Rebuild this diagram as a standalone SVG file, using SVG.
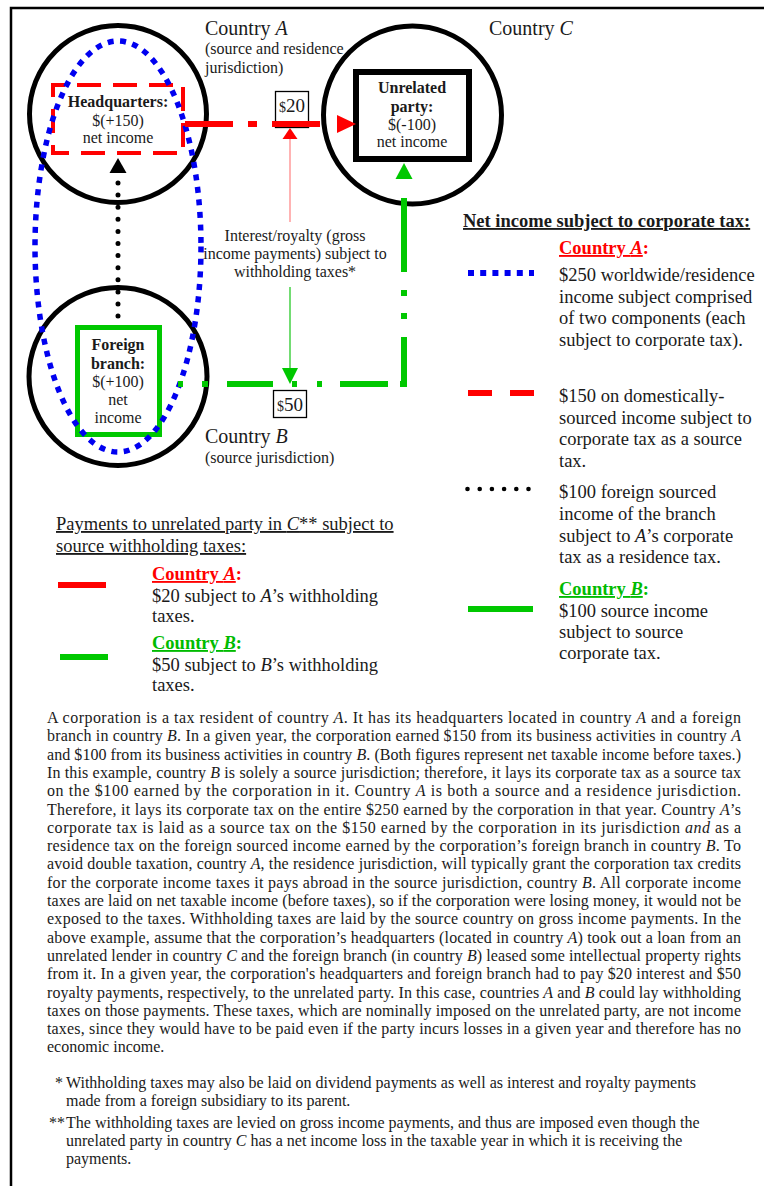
<svg xmlns="http://www.w3.org/2000/svg" width="764" height="1186" viewBox="0 0 764 1186">
<defs>
<style>
text{font-family:"Liberation Serif","Times New Roman",serif;fill:#1a1a1a}
.c20{font-size:20px}
.s16{font-size:16px}
.b{font-weight:bold}
.lg{font-size:18.5px}
.p{font-size:16px}
.fn{font-size:16px}
.mid{text-anchor:middle}
.it{font-style:italic}
.circ{fill:none;stroke:#000;stroke-width:5}
.red{stroke:#ff0000;stroke-width:6;fill:none}
.grn{stroke:#00c800;stroke-width:6;fill:none}
.rt{fill:#ff0000}
.gt{fill:#00bb00}
</style>
</defs>
<rect x="0" y="0" width="764" height="1186" fill="#fff"/>
<rect x="11" y="8" width="800" height="1200" fill="#fff" stroke="#000" stroke-width="2.5"/>

<g id="countryA">
<circle cx="118" cy="114" r="88.5" class="circ"/>
<text class="c20" x="205" y="35">Country <tspan class="it">A</tspan></text>
<text class="s16" x="205" y="54">(source and residence</text>
<text class="s16" x="205" y="73">jurisdiction)</text>
</g>
<g id="countryB">
<circle cx="118" cy="376.5" r="89" class="circ"/>
<text class="c20" x="205" y="443">Country <tspan class="it">B</tspan></text>
<text class="s16" x="205" y="463">(source jurisdiction)</text>
</g>
<g id="countryC">
<circle cx="412.5" cy="115" r="89" class="circ"/>
<text class="c20" x="489" y="35">Country <tspan class="it">C</tspan></text>
</g>

<g id="headquarters">
<rect x="53" y="85" width="130" height="68" fill="none" stroke="#ff0000" stroke-width="4" stroke-dasharray="24 12" stroke-dashoffset="12"/>
<text class="s16 b mid" x="118" y="107">Headquarters:</text>
<text class="s16 mid" x="118" y="126">$(+150)</text>
<text class="s16 mid" x="118" y="143">net income</text>
</g>

<g id="unrelatedParty">
<rect x="356" y="72" width="113" height="87" fill="#fff" stroke="#000" stroke-width="6"/>
<text class="s16 b mid" x="412" y="93">Unrelated</text>
<text class="s16 b mid" x="412" y="112">party:</text>
<text class="s16 mid" x="412" y="130">$(-100)</text>
<text class="s16 mid" x="412" y="147">net income</text>
</g>

<g id="foreignBranch">
<rect x="77.5" y="327.5" width="82" height="107" fill="#fff" stroke="#00c800" stroke-width="5"/>
<text class="s16 b mid" x="118" y="350">Foreign</text>
<text class="s16 b mid" x="118" y="369">branch:</text>
<text class="s16 mid" x="118" y="387">$(+100)</text>
<text class="s16 mid" x="118" y="405">net</text>
<text class="s16 mid" x="118" y="423">income</text>
</g>

<g id="residenceScope">
<ellipse cx="118" cy="246.5" rx="83" ry="205.5" fill="none" stroke="#0000f0" stroke-width="5.5" stroke-dasharray="6 6.5"/>
</g>

<g id="connectors">
<!-- branch to HQ (dotted) -->
<line x1="118" y1="183" x2="118" y2="317" stroke="#000" stroke-width="5" stroke-linecap="round" stroke-dasharray="0 12.1"/>
<polygon points="118,158 109.5,173 126.5,173" fill="#000"/>
<!-- $20 box -->
<rect x="275.5" y="91.5" width="33" height="36" fill="#fff" stroke="#000" stroke-width="1.3"/>
<text x="292" y="112" class="mid"><tspan font-size="14">$</tspan><tspan font-size="19">20</tspan></text>
<!-- HQ to unrelated party (red) -->
<path class="red" d="M185 124H233M248 124H257M272 124H320"/>
<polygon points="337,115 356,124 337,133" fill="#ff0000"/>
<!-- thin red arrow -->
<line x1="290" y1="222" x2="290" y2="136" stroke="#ff8080" stroke-width="1.2"/>
<polygon points="290,128 282.5,139 297.5,139" fill="#ff0000"/>
<!-- label -->
<text class="s16 mid" x="295" y="241">Interest/royalty (gross</text>
<text class="s16 mid" x="295" y="259">income payments) subject to</text>
<text class="s16 mid" x="295" y="277">withholding taxes*</text>
<!-- thin green arrow -->
<line x1="290" y1="287" x2="290" y2="370" stroke="#44d044" stroke-width="1.5"/>
<polygon points="290,384 282,368 298,368" fill="#00c800"/>
<!-- branch to unrelated party (green) -->
<path class="grn" d="M178 384H183M202 384H208M227 384H273M292 384H297M317 384H322M340 384H388M400 384H407M404 387V337M404 319V313M404 296V290M404 272V198"/>
<polygon points="404,163 395.5,179 412.5,179" fill="#00c800"/>
<!-- $50 box -->
<rect x="273.5" y="390.5" width="33" height="27" fill="#fff" stroke="#000" stroke-width="1.3"/>
<text x="290" y="411" class="mid"><tspan font-size="14">$</tspan><tspan font-size="19">50</tspan></text>
</g>

<g id="legendCorporateTax">
<text class="lg b" x="463" y="227" text-decoration="underline">Net income subject to corporate tax:</text>
<text class="lg b rt" x="559" y="254"><tspan text-decoration="underline">Country <tspan class="it">A</tspan></tspan>:</text>
<line x1="468" y1="273" x2="534" y2="273" stroke="#0000f0" stroke-width="6" stroke-dasharray="6 6.2"/>
<text class="lg" x="559" y="281">$250 worldwide/residence</text>
<text class="lg" x="559" y="303">income subject comprised</text>
<text class="lg" x="559" y="324">of two components (each</text>
<text class="lg" x="559" y="346">subject to corporate tax).</text>
<line x1="468" y1="393" x2="534" y2="393" stroke="#ff0000" stroke-width="6" stroke-dasharray="24 18"/>
<text class="lg" x="559" y="402">$150 on domestically-</text>
<text class="lg" x="559" y="424">sourced income subject to</text>
<text class="lg" x="559" y="445">corporate tax as a source</text>
<text class="lg" x="559" y="467">tax.</text>
<g fill="#000">
<circle cx="467.5" cy="489" r="2.3"/><circle cx="479.7" cy="489" r="2.3"/><circle cx="491.9" cy="489" r="2.3"/><circle cx="504.1" cy="489" r="2.3"/><circle cx="516.3" cy="489" r="2.3"/><circle cx="528.5" cy="489" r="2.3"/>
</g>
<text class="lg" x="559" y="498">$100 foreign sourced</text>
<text class="lg" x="559" y="520">income of the branch</text>
<text class="lg" x="559" y="542">subject to <tspan class="it">A</tspan>’s corporate</text>
<text class="lg" x="559" y="563">tax as a residence tax.</text>
<text class="lg b gt" x="559" y="595"><tspan text-decoration="underline">Country <tspan class="it">B</tspan></tspan>:</text>
<line x1="468" y1="609" x2="533" y2="609" stroke="#00c800" stroke-width="6"/>
<text class="lg" x="559" y="617">$100 source income</text>
<text class="lg" x="559" y="638">subject to source</text>
<text class="lg" x="559" y="659">corporate tax.</text>
</g>

<g id="legendWithholding">
<text class="lg" x="56" y="530" text-decoration="underline">Payments to unrelated party in <tspan class="it">C</tspan>** subject to</text>
<text class="lg" x="56" y="552" text-decoration="underline">source withholding taxes:</text>
<line x1="58" y1="585" x2="106" y2="585" stroke="#ff0000" stroke-width="6"/>
<text class="lg b rt" x="152" y="580"><tspan text-decoration="underline">Country <tspan class="it">A</tspan></tspan>:</text>
<text class="lg" x="152" y="602">$20 subject to <tspan class="it">A</tspan>’s withholding</text>
<text class="lg" x="152" y="622">taxes.</text>
<line x1="60" y1="657" x2="108" y2="657" stroke="#00c800" stroke-width="6"/>
<text class="lg b gt" x="152" y="649"><tspan text-decoration="underline">Country <tspan class="it">B</tspan></tspan>:</text>
<text class="lg" x="152" y="671">$50 subject to <tspan class="it">B</tspan>’s withholding</text>
<text class="lg" x="152" y="691">taxes.</text>
</g>

<g id="paragraph" class="p">
<text class="p" x="47" y="723" textLength="694" lengthAdjust="spacing">A corporation is a tax resident of country <tspan class="it">A</tspan>. It has its headquarters located in country <tspan class="it">A</tspan> and a foreign</text>
<text class="p" x="47" y="741.3" textLength="694" lengthAdjust="spacing">branch in country <tspan class="it">B</tspan>. In a given year, the corporation earned $150 from its business activities in country <tspan class="it">A</tspan></text>
<text class="p" x="47" y="759.6" textLength="694" lengthAdjust="spacing">and $100 from its business activities in country <tspan class="it">B</tspan>. (Both figures represent net taxable income before taxes.)</text>
<text class="p" x="47" y="777.9" textLength="694" lengthAdjust="spacing">In this example, country <tspan class="it">B</tspan> is solely a source jurisdiction; therefore, it lays its corporate tax as a source tax</text>
<text class="p" x="47" y="796.2" textLength="694" lengthAdjust="spacing">on the $100 earned by the corporation in it. Country <tspan class="it">A</tspan> is both a source and a residence jurisdiction.</text>
<text class="p" x="47" y="814.5" textLength="694" lengthAdjust="spacing">Therefore, it lays its corporate tax on the entire $250 earned by the corporation in that year. Country <tspan class="it">A</tspan>’s</text>
<text class="p" x="47" y="832.8" textLength="694" lengthAdjust="spacing">corporate tax is laid as a source tax on the $150 earned by the corporation in its jurisdiction <tspan class="it">and</tspan> as a</text>
<text class="p" x="47" y="851.1" textLength="694" lengthAdjust="spacing">residence tax on the foreign sourced income earned by the corporation’s foreign branch in country <tspan class="it">B</tspan>. To</text>
<text class="p" x="47" y="869.4" textLength="694" lengthAdjust="spacing">avoid double taxation, country <tspan class="it">A</tspan>, the residence jurisdiction, will typically grant the corporation tax credits</text>
<text class="p" x="47" y="887.7" textLength="694" lengthAdjust="spacing">for the corporate income taxes it pays abroad in the source jurisdiction, country <tspan class="it">B</tspan>. All corporate income</text>
<text class="p" x="47" y="906" textLength="694" lengthAdjust="spacing">taxes are laid on net taxable income (before taxes), so if the corporation were losing money, it would not be</text>
<text class="p" x="47" y="924.3" textLength="694" lengthAdjust="spacing">exposed to the taxes. Withholding taxes are laid by the source country on gross income payments. In the</text>
<text class="p" x="47" y="942.6" textLength="694" lengthAdjust="spacing">above example, assume that the corporation’s headquarters (located in country <tspan class="it">A</tspan>) took out a loan from an</text>
<text class="p" x="47" y="960.9" textLength="694" lengthAdjust="spacing">unrelated lender in country <tspan class="it">C</tspan> and the foreign branch (in country <tspan class="it">B</tspan>) leased some intellectual property rights</text>
<text class="p" x="47" y="979.2" textLength="694" lengthAdjust="spacing">from it. In a given year, the corporation's headquarters and foreign branch had to pay $20 interest and $50</text>
<text class="p" x="47" y="997.5" textLength="694" lengthAdjust="spacing">royalty payments, respectively, to the unrelated party. In this case, countries <tspan class="it">A</tspan> and <tspan class="it">B</tspan> could lay withholding</text>
<text class="p" x="47" y="1015.8" textLength="694" lengthAdjust="spacing">taxes on those payments. These taxes, which are nominally imposed on the unrelated party, are not income</text>
<text class="p" x="47" y="1034.1" textLength="694" lengthAdjust="spacing">taxes, since they would have to be paid even if the party incurs losses in a given year and therefore has no</text>
<text class="p" x="47" y="1052.4">economic income.</text>
</g>

<g id="footnotes">
<text class="fn" x="55" y="1088">*</text>
<text class="fn" x="66" y="1088">Withholding taxes may also be laid on dividend payments as well as interest and royalty payments</text>
<text class="fn" x="66" y="1106">made from a foreign subsidiary to its parent.</text>
<text class="fn" x="49" y="1128">**</text>
<text class="fn" x="66" y="1128">The withholding taxes are levied on gross income payments, and thus are imposed even though the</text>
<text class="fn" x="66" y="1146">unrelated party in country <tspan class="it">C</tspan> has a net income loss in the taxable year in which it is receiving the</text>
<text class="fn" x="66" y="1164">payments.</text>
</g>
</svg>
